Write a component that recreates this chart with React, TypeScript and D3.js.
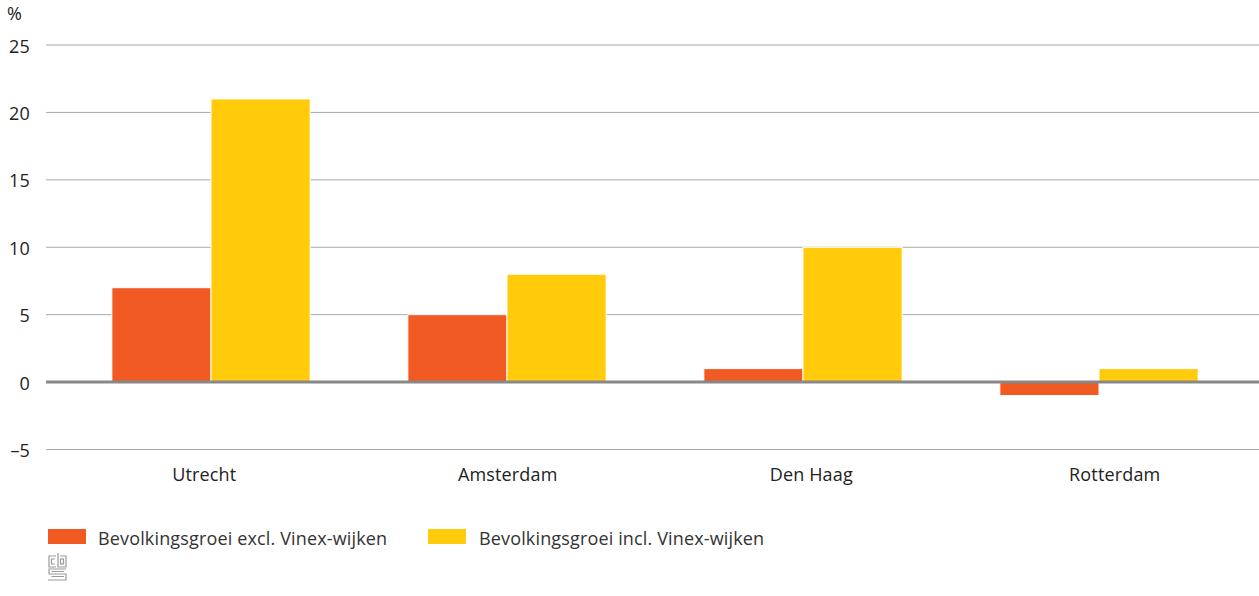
import React, { useEffect } from "react";
import * as d3 from "d3";

const categories = ["Utrecht", "Amsterdam", "Den Haag", "Rotterdam"];
const seriesNames = ["Bevolkingsgroei excl. Vinex-wijken", "Bevolkingsgroei incl. Vinex-wijken"];
const exclVinex = [7, 5, 1, -1];
const inclVinex = [21, 8, 10, 1];
const yTicks = [-5, 0, 5, 10, 15, 20, 25];
const colors = ["#F15A22", "#FFCB0A"];

const W = 1259;
const H = 596;
const font = "'Open Sans', sans-serif";
const fs = 18;

export default function App() {
  useEffect(() => {
    document.body.style.margin = "0";
  }, []);

  const y = d3.scaleLinear().domain([-5, 25]).range([449.5, 45]);
  const x = d3.scaleBand<string>().domain(categories).range([63, 1247]).paddingInner(0.33).paddingOuter(0.165);
  const xLabel = d3.scaleBand<string>().domain(categories).range([52.5, 1266.5]);
  const x1 = d3.scaleBand<number>().domain([0, 1]).range([0, x.bandwidth()]);
  const series = [exclVinex, inclVinex];

  const fmt = (v: number) => (v < 0 ? "\u2013" + Math.abs(v) : String(v));

  return (
    <svg width={W} height={H} style={{ display: "block", fontFamily: font, letterSpacing: 0.15 }}>
      <rect width={W} height={H} fill="#fff" />
      <text x={7} y={20} fontSize={fs} fill="#222">%</text>
      {yTicks.map((t) => (
        <g key={t}>
          {t !== 0 && (
            <line x1={46} x2={W} y1={y(t)} y2={y(t)} stroke="#a8a8a8" strokeWidth={1} />
          )}
          <text x={30} y={y(t) + 7.5} fontSize={fs} fill="#222" textAnchor="end">
            {fmt(t)}
          </text>
        </g>
      ))}
      {categories.map((c, i) => (
        <g key={c} transform={`translate(${x(c)},0)`}>
          {series.map((s, k) => {
            const v = s[i];
            const y0 = y(Math.max(0, v));
            const y1 = y(Math.min(0, v));
            return (
              <rect
                key={k}
                x={x1(k)}
                y={y0}
                width={x1.bandwidth()}
                height={y1 - y0}
                fill={colors[k]}
                stroke="#fff"
                strokeWidth={1}
              />
            );
          })}
        </g>
      ))}
      <line x1={46} x2={W} y1={y(0)} y2={y(0)} stroke="#888" strokeWidth={3} />
      {categories.map((c) => (
        <text key={c} x={(xLabel(c) as number) + xLabel.bandwidth() / 2} y={481} fontSize={fs} fill="#222" textAnchor="middle">
          {c}
        </text>
      ))}
      <g>
        <rect x={48} y={529} width={38} height={15} fill={colors[0]} />
        <text x={98} y={545} fontSize={fs} fill="#333">{seriesNames[0]}</text>
        <rect x={428} y={529} width={38} height={15} fill={colors[1]} />
        <text x={479} y={545} fontSize={fs} fill="#333">{seriesNames[1]}</text>
      </g>
      <g fill="none" stroke="#9a9a9a" strokeWidth={1.2}>
        <path d="M56 556 H49 V567 H56" />
        <path d="M55 559 H51.5 V564 H55" />
        <path d="M58 553 V567 H66 V556 H60" />
        <rect x={60.5} y={559} width={3} height={5} />
        <path d="M66 569 H49 V574 H66 V580 H48" />
        <path d="M64 571.5 H51.5 M51.5 576.5 H64" />
      </g>
    </svg>
  );
}
